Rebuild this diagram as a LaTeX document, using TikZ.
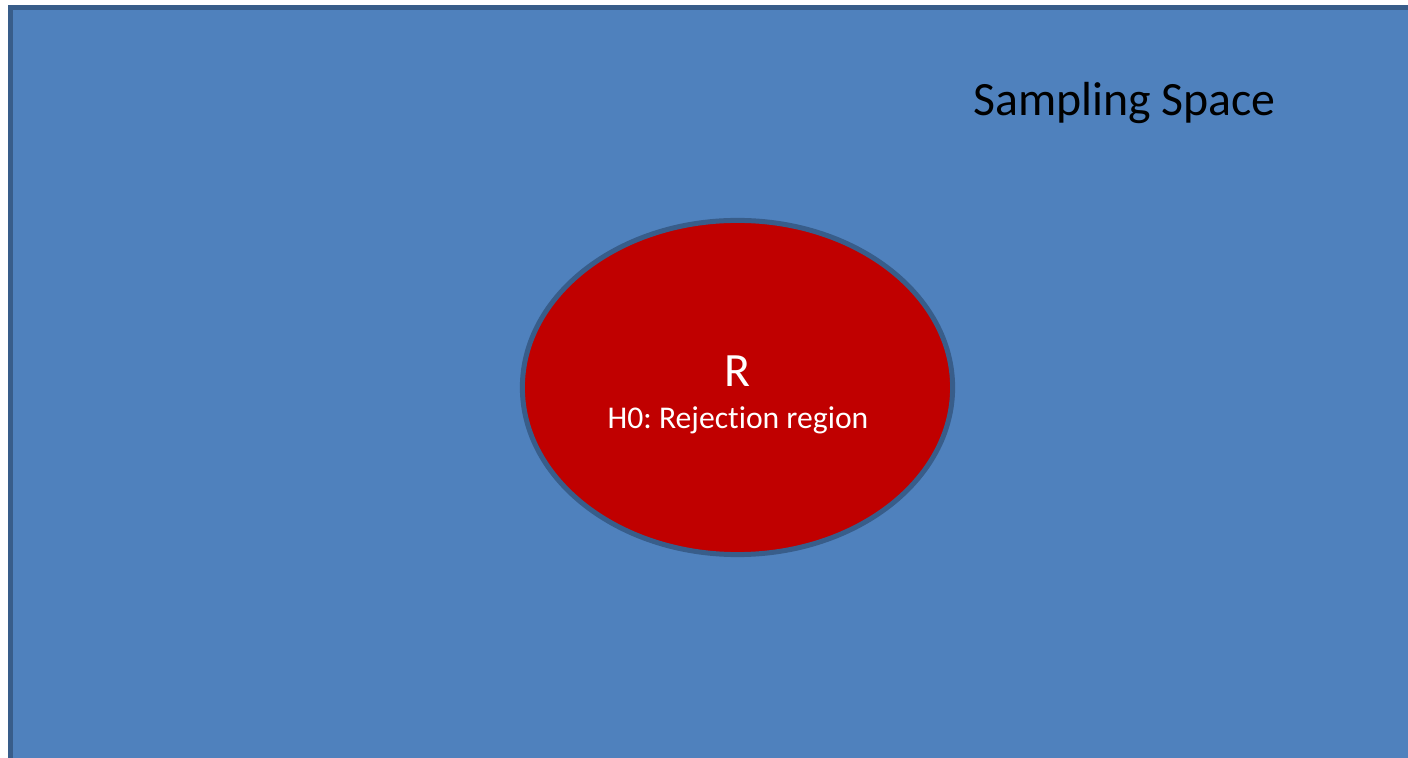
\documentclass[tikz,border=0pt]{standalone}
\usepackage{fontspec}
\setmainfont[Ligatures=NoCommon]{Carlito}
\usetikzlibrary{shapes.geometric}
\frenchspacing
\definecolor{spaceblue}{RGB}{79, 129, 189}
\definecolor{edgeblue}{RGB}{56, 93, 138}
\definecolor{rejred}{RGB}{192, 0, 0}
\tikzstyle{spaceBox} = [shape=rectangle, draw=edgeblue, fill=spaceblue,
	line width=1.42pt, inner sep=0pt]
\tikzstyle{rejRegion} = [shape=ellipse, draw=edgeblue, fill=rejred,
	line width=1.42pt, inner sep=0pt]
\tikzstyle{bigText} = [inner sep=0pt, font=\fontsize{13.6pt}{16pt}\selectfont]
\tikzstyle{smallText} = [inner sep=0pt, text=white, font=\fontsize{9pt}{11pt}\selectfont]

\begin{document}
\begin{tikzpicture}[x=0.01cm, y=-0.01cm]
  \useasboundingbox (0,0) rectangle (1408,758);
  \clip (0,0) rectangle (1408,758);

  \node (SPACE) [spaceBox, minimum width=14.095cm, minimum height=7.625cm] at (715.25,388.75) {};
  \node (TITLE) [bigText, anchor=base] at (1124.5,116) {Sampling Space};

  \node (REJ) [rejRegion, minimum width=4.30cm, minimum height=3.34cm] at (737.5,387.5) {};
  \node (RLAB) [bigText, text=white, anchor=base] at (737,387) {R};
  \node (HLAB) [smallText, anchor=base] at (738,429) {H0: Rejection region};

\end{tikzpicture}
\end{document}
